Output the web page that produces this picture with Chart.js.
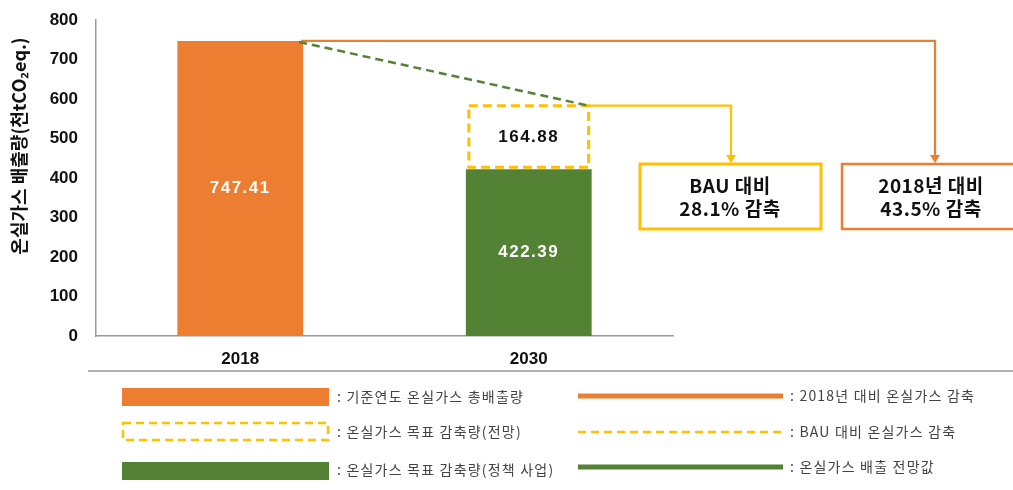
<!DOCTYPE html>
<html><head><meta charset="utf-8">
<script src="https://cdn.jsdelivr.net/npm/chart.js@4/dist/chart.umd.min.js"></script>
<style>html,body{margin:0;padding:0;background:#fff;}#wrap{width:1013px;height:490px;position:relative;}</style>
</head><body><div id="wrap"><canvas id="c" width="1013" height="490"></canvas></div>
<script>
const categories = ['2018', '2030'];
const baseYear = [747.41, null];          // 기준연도 온실가스 총배출량
const projected = [null, 422.39];         // 2030 배출 전망값 (정책 사업)
const targetCut = [null, 164.88];         // 온실가스 목표 감축량(전망)
const yTicks = [0, 100, 200, 300, 400, 500, 600, 700, 800];
const yTitle = '온실가스 배출량(천tCO₂eq.)';
const bauText = ['BAU 대비', '28.1% 감축'];
const baseText = ['2018년 대비', '43.5% 감축'];
const legendLeft = ['기준연도 온실가스 총배출량', '온실가스 목표 감축량(전망)', '온실가스 목표 감축량(정책 사업)'];
const legendRight = ['2018년 대비 온실가스 감축', 'BAU 대비 온실가스 감축', '온실가스 배출 전망값'];

const ORANGE = '#ED7D31', GREEN = '#548235', YELLOW = '#FFC000';
const FONT = '"Noto Sans CJK KR", "Noto Sans", sans-serif';
const NUMFONT = '"Liberation Sans", Arial, sans-serif';

const overlay = {
  id: 'overlay',
  afterDatasetsDraw(chart) {
    const ctx = chart.ctx;
    const m0 = chart.getDatasetMeta(0).data[0];
    const m1 = chart.getDatasetMeta(1).data[1];
    const m2 = chart.getDatasetMeta(2).data[1];
    ctx.save();
    // dashed target box
    const bx0 = m2.x - m2.width / 2 + 3, bx1 = m2.x + m2.width / 2 - 3;
    const by0 = m2.y + 1.5, by1 = m2.base - 2;
    ctx.strokeStyle = YELLOW; ctx.lineWidth = 3; ctx.setLineDash([9, 5]);
    ctx.strokeRect(bx0, by0, bx1 - bx0, by1 - by0);
    ctx.setLineDash([]);
    // data labels
    ctx.font = 'bold 17px ' + NUMFONT; ctx.textAlign = 'center'; ctx.textBaseline = 'middle';
    ctx.letterSpacing = '1.5px';
    ctx.fillStyle = '#fff';
    ctx.fillText(baseYear[0].toFixed(2), m0.x, (m0.y + m0.base) / 2);
    ctx.fillText(projected[1].toFixed(2), m1.x, (m1.y + m1.base) / 2);
    ctx.fillStyle = '#111';
    ctx.fillText(targetCut[1].toFixed(2), m2.x, (by0 + by1) / 2 + 1);
    ctx.letterSpacing = '0px';
    // orange connector from 2018 top
    const r0 = m0.x + m0.width / 2;
    const yTop = m0.y;
    ctx.strokeStyle = ORANGE; ctx.lineWidth = 2.2;
    ctx.beginPath(); ctx.moveTo(r0 - 2, yTop); ctx.lineTo(935, yTop); ctx.lineTo(935, 156); ctx.stroke();
    ctx.fillStyle = ORANGE;
    ctx.beginPath(); ctx.moveTo(930, 155); ctx.lineTo(940, 155); ctx.lineTo(935, 163); ctx.closePath(); ctx.fill();
    // yellow connector from target box
    ctx.strokeStyle = YELLOW; ctx.lineWidth = 2.2;
    ctx.beginPath(); ctx.moveTo(bx1, by0); ctx.lineTo(731, by0); ctx.lineTo(731, 156); ctx.stroke();
    ctx.fillStyle = YELLOW;
    ctx.beginPath(); ctx.moveTo(726, 155); ctx.lineTo(736, 155); ctx.lineTo(731, 163); ctx.closePath(); ctx.fill();
    // green dashed trend line
    ctx.strokeStyle = GREEN; ctx.lineWidth = 2.5; ctx.setLineDash([8, 5]);
    ctx.beginPath(); ctx.moveTo(r0 - 4, yTop + 1); ctx.lineTo(bx1, by0); ctx.stroke();
    ctx.setLineDash([]);
    // annotation boxes
    ctx.lineWidth = 3; ctx.strokeStyle = YELLOW;
    ctx.strokeRect(640, 164, 181, 65);
    ctx.strokeStyle = ORANGE; ctx.lineWidth = 2.5;
    ctx.strokeRect(842, 164, 180, 65);
    ctx.fillStyle = '#111'; ctx.font = 'bold 19px ' + FONT;
    ctx.letterSpacing = '0.5px';
    ctx.fillText(bauText[0], 730, 186); ctx.fillText(bauText[1], 730, 209);
    ctx.fillText(baseText[0], 931, 186); ctx.fillText(baseText[1], 931, 209);
    ctx.letterSpacing = '0px';
    // y title
    ctx.save();
    ctx.translate(19, 146); ctx.rotate(-Math.PI / 2);
    ctx.font = '600 18px ' + FONT; ctx.fillStyle = '#111';
    ctx.fillText(yTitle, 0, 0);
    ctx.restore();
    // legend
    ctx.strokeStyle = '#999'; ctx.lineWidth = 1.5;
    ctx.beginPath(); ctx.moveTo(88, 371); ctx.lineTo(1013, 371); ctx.stroke();
    ctx.fillStyle = ORANGE; ctx.fillRect(122, 388, 207, 18);
    ctx.strokeStyle = YELLOW; ctx.lineWidth = 2.5; ctx.setLineDash([8, 5]);
    ctx.strokeRect(123, 423, 205, 17);
    ctx.setLineDash([]);
    ctx.fillStyle = GREEN; ctx.fillRect(122, 462, 207, 18);
    ctx.lineWidth = 5; ctx.strokeStyle = ORANGE;
    ctx.beginPath(); ctx.moveTo(578, 396); ctx.lineTo(783, 396); ctx.stroke();
    ctx.lineWidth = 2.5; ctx.strokeStyle = YELLOW; ctx.setLineDash([8, 5]);
    ctx.beginPath(); ctx.moveTo(578, 432); ctx.lineTo(783, 432); ctx.stroke();
    ctx.setLineDash([]);
    ctx.lineWidth = 5; ctx.strokeStyle = GREEN;
    ctx.beginPath(); ctx.moveTo(578, 467); ctx.lineTo(783, 467); ctx.stroke();
    ctx.font = '14px ' + FONT; ctx.fillStyle = '#444'; ctx.textAlign = 'left';
    ctx.letterSpacing = '1.2px';
    const ly = [397, 432, 470];
    legendLeft.forEach((t, i) => ctx.fillText(': ' + t, 337, ly[i]));
    const ry = [396, 432, 467];
    legendRight.forEach((t, i) => ctx.fillText(': ' + t, 790, ry[i]));
    ctx.letterSpacing = '0px';
    ctx.restore();
  }
};

new Chart(document.getElementById('c'), {
  type: 'bar',
  data: {
    labels: categories,
    datasets: [
      { data: baseYear, backgroundColor: ORANGE, stack: 's', categoryPercentage: 1, barPercentage: 0.436 },
      { data: projected, backgroundColor: GREEN, stack: 's', categoryPercentage: 1, barPercentage: 0.436 },
      { data: targetCut, backgroundColor: 'rgba(0,0,0,0)', borderWidth: 0, stack: 's', categoryPercentage: 1, barPercentage: 0.436 }
    ]
  },
  options: {
    responsive: false, animation: false,
    layout: { padding: { top: 16, right: 340, left: 0, bottom: 0 } },
    plugins: { legend: { display: false }, tooltip: { enabled: false } },
    scales: {
      x: {
        stacked: true,
        grid: { display: false },
        border: { display: true, color: '#999', width: 1.5 },
        ticks: { font: { family: NUMFONT, size: 17, weight: 'bold' }, color: '#111', padding: 5 },
        afterFit(s) { s.height = 154; }
      },
      y: {
        stacked: true, min: 0, max: 800,
        afterBuildTicks(s) { s.ticks = yTicks.map(v => ({ value: v })); },
        grid: { display: false },
        border: { display: true, color: '#999', width: 1.5 },
        ticks: { font: { family: NUMFONT, size: 17, weight: 'bold' }, color: '#111', padding: 10 },
        afterFit(s) { s.width = 96; }
      }
    }
  },
  plugins: [overlay]
});
</script></body></html>
